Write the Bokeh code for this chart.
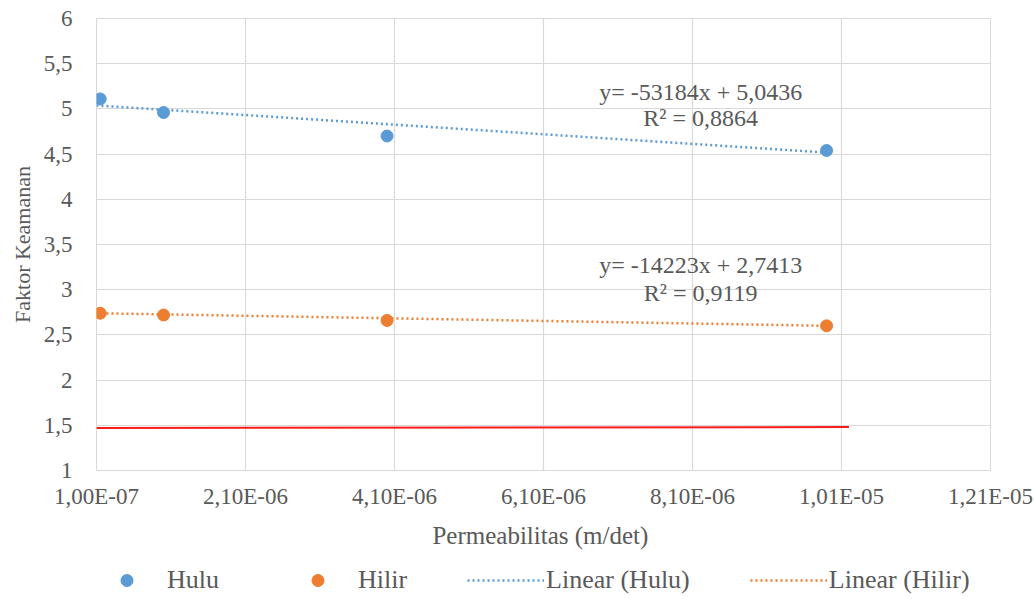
from bokeh.plotting import figure
from bokeh.layouts import column
from bokeh.models import (Range1d, FixedTicker, CustomJSTickFormatter, Legend, LegendItem,
                          ColumnDataSource, Label)
from bokeh.embed import file_html
from bokeh.resources import INLINE

# ---- data ----
perm = [1.5e-7, 1.0e-6, 4.0e-6, 9.9e-6]
hulu = [5.11, 4.96, 4.70, 4.54]
hilir = [2.74, 2.72, 2.66, 2.60]

hulu_slope, hulu_intercept = -53184.0, 5.0436
hilir_slope, hilir_intercept = -14223.0, 2.7413
hulu_eq = ["y= -53184x + 5,0436", "R² = 0,8864"]
hilir_eq = ["y= -14223x + 2,7413", "R² = 0,9119"]

limit_x = [1.0e-7, 1.02e-5]
limit_y = [1.47, 1.48]

x_ticks = [1.0e-7, 2.1e-6, 4.1e-6, 6.1e-6, 8.1e-6, 1.01e-5, 1.21e-5]
y_ticks = [1, 1.5, 2, 2.5, 3, 3.5, 4, 4.5, 5, 5.5, 6]
legend_labels = ["Hulu", "Hilir", "Linear (Hulu)", "Linear (Hilir)"]

BLUE = "#5B9BD5"
ORANGE = "#ED7D31"
GRAY = "#595959"
FONT = "Liberation Serif"

p = figure(width=1034, height=560, x_range=Range1d(1.0e-7, 1.21e-5), y_range=Range1d(1, 6),
           output_backend="svg", toolbar_location=None,
           min_border_left=96, min_border_right=44, min_border_top=18, min_border_bottom=90)
p.outline_line_color = "#D9D9D9"
p.background_fill_color = "white"
p.border_fill_color = "white"

# trend lines (from equations) over data range, starting at axis start
x0 = min(x_ticks[0], min(perm))
x1 = max(perm)
tx = [x0, x1]
p.line(tx, [hulu_intercept + hulu_slope * v for v in tx], line_color=BLUE,
       line_width=2.5, line_dash="2 3")
p.line(tx, [hilir_intercept + hilir_slope * v for v in tx], line_color=ORANGE,
       line_width=2.5, line_dash="2 3")

p.line(limit_x, limit_y, line_color="#FF1A1A", line_width=2)

src = ColumnDataSource(dict(x=perm, hulu=hulu, hilir=hilir))
p.scatter("x", "hulu", source=src, size=12, fill_color=BLUE, line_color=BLUE)
p.scatter("x", "hilir", source=src, size=12, fill_color=ORANGE, line_color=ORANGE)

# equation labels
eq_x = 8.21e-6
for text, yy in [(hulu_eq[0], 5.19), (hulu_eq[1], 4.90), (hilir_eq[0], 3.27), (hilir_eq[1], 2.96)]:
    p.add_layout(Label(x=eq_x, y=yy, text=text, text_align="center", text_baseline="middle",
                       text_font=FONT, text_font_size="24px", text_color=GRAY))

# axes
for ax in (p.xaxis, p.yaxis):
    ax.axis_line_color = None
    ax.major_tick_line_color = None
    ax.minor_tick_line_color = None
    ax.major_label_text_font = FONT
    ax.major_label_text_font_size = "23px"
    ax.major_label_text_color = GRAY
    ax.axis_label_text_font = FONT
    ax.axis_label_text_color = GRAY
    ax.axis_label_text_font_style = "normal"

p.xaxis.axis_label_text_font_size = "25px"
p.yaxis.axis_label_text_font_size = "22px"
p.xaxis.ticker = FixedTicker(ticks=x_ticks)
p.yaxis.ticker = FixedTicker(ticks=y_ticks)
p.xaxis.formatter = CustomJSTickFormatter(code="""
    const e = Math.floor(Math.log10(Math.abs(tick)) + 1e-9);
    const m = tick / Math.pow(10, e);
    const s = m.toFixed(2).replace('.', ',');
    const es = (e < 0 ? '-' : '+') + String(Math.abs(e)).padStart(2, '0');
    return s + 'E' + es;
""")
p.yaxis.formatter = CustomJSTickFormatter(code="return String(tick).replace('.', ',');")
p.xaxis.axis_label = "Permeabilitas  (m/det)"
p.yaxis.axis_label = "Faktor Keamanan"
p.xaxis.major_label_standoff = 7
p.yaxis.major_label_standoff = 18
p.xaxis.axis_label_standoff = 10
p.yaxis.axis_label_standoff = 6

p.xgrid.grid_line_color = "#D9D9D9"
p.ygrid.grid_line_color = "#D9D9D9"
p.xgrid.grid_line_width = 1.2
p.ygrid.grid_line_width = 1.2

# legend strip below the chart (frame aligned with the main chart's frame)
lf = figure(width=1034, height=39, x_range=Range1d(0, 1), y_range=Range1d(0, 1),
            output_backend="svg", toolbar_location=None,
            min_border_left=96, min_border_right=44, min_border_top=0, min_border_bottom=0)
lf.axis.visible = False
lf.grid.visible = False
lf.outline_line_color = None
lf.border_fill_color = "white"
e_h = lf.scatter(x=[-5], y=[-5], size=12, fill_color=BLUE, line_color=BLUE)
e_i = lf.scatter(x=[-5], y=[-5], size=12, fill_color=ORANGE, line_color=ORANGE)
e_th = lf.line(x=[-5, -4], y=[-5, -5], line_color=BLUE, line_width=2.5, line_dash="2 3")
e_ti = lf.line(x=[-5, -4], y=[-5, -5], line_color=ORANGE, line_width=2.5, line_dash="2 3")
legend = Legend(items=[LegendItem(label=lab, renderers=[r])
                       for lab, r in zip(legend_labels, [e_h, e_i, e_th, e_ti])],
                orientation="horizontal", location=(-8, 4), glyph_width=77, glyph_height=30,
                label_standoff=2, spacing=60, padding=0, margin=0, border_line_color=None,
                background_fill_alpha=0, label_text_font=FONT, label_text_font_size="26px",
                label_text_color=GRAY)
lf.add_layout(legend, "center")

layout = column(p, lf, spacing=0)
open("out.html", "w").write(file_html(layout, INLINE))
